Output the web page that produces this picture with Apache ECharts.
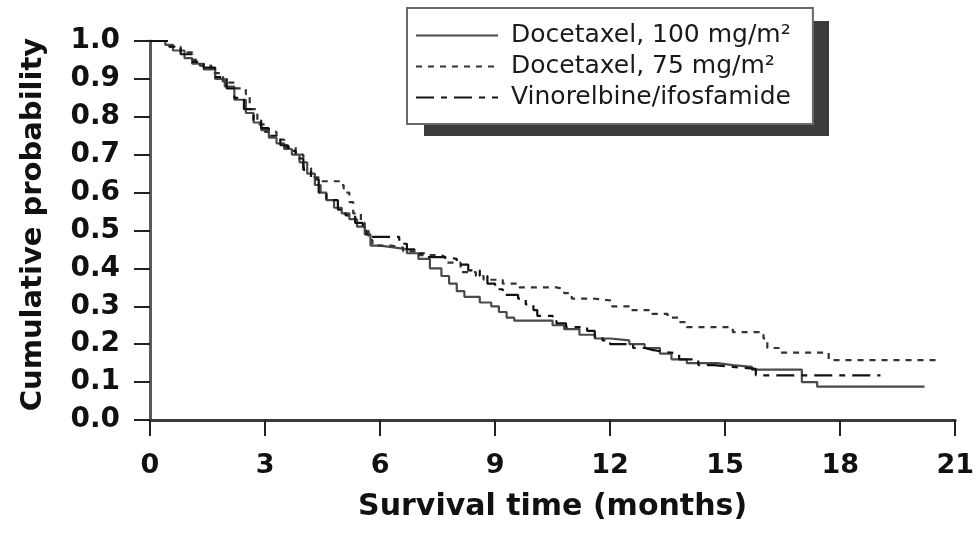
<!DOCTYPE html>
<html><head><meta charset="utf-8">
<script src="https://cdn.jsdelivr.net/npm/echarts@6/dist/echarts.min.js"></script>
<style>html,body{margin:0;padding:0;background:#fff}#c{width:977px;height:533px}</style>
</head><body><div id="c"></div>
<script>
// ---- data ----
const seriesNames = ['Docetaxel, 100 mg/m²', 'Docetaxel, 75 mg/m²', 'Vinorelbine/ifosfamide'];
const xTicks = [0, 3, 6, 9, 12, 15, 18, 21];
const yTicks = [0.0, 0.1, 0.2, 0.3, 0.4, 0.5, 0.6, 0.7, 0.8, 0.9, 1.0];

const d100Months = [0,0.4,0.6,0.9,1.1,1.4,1.7,1.95,2.2,2.5,2.7,2.9,3.1,3.3,3.5,3.7,3.9,4.1,4.3,4.45,4.6,4.8,5.0,5.2,5.4,5.6,5.75,6.0,6.4,6.7,7.0,7.3,7.6,7.8,8.0,8.2,8.6,8.9,9.1,9.3,9.5,10.5,10.8,11.2,11.6,12.0,12.5,12.9,13.3,13.6,14.0,14.8,15.2,15.7,17.0,17.4,20.2];
const d100Surv   = [1.0,0.99,0.975,0.955,0.94,0.925,0.9,0.88,0.845,0.81,0.785,0.765,0.745,0.73,0.715,0.7,0.68,0.65,0.62,0.6,0.58,0.56,0.545,0.53,0.51,0.49,0.46,0.455,0.45,0.44,0.425,0.4,0.38,0.36,0.34,0.325,0.31,0.3,0.285,0.27,0.262,0.25,0.24,0.225,0.215,0.21,0.2,0.19,0.175,0.16,0.15,0.145,0.14,0.133,0.10,0.088,0.088];

const d75Months = [0,0.5,0.8,1.1,1.3,1.6,1.9,2.2,2.5,2.6,2.8,3.0,3.3,3.5,3.8,4.0,4.2,4.4,4.95,5.05,5.2,5.3,5.5,5.6,5.7,5.8,6.3,6.6,6.9,7.6,7.7,8.1,8.5,8.7,9.2,9.6,10.6,10.8,11.0,11.6,12.05,12.5,13.1,13.5,13.8,14.0,15.2,16.0,16.1,16.4,17.7,20.6];
const d75Surv   = [1.0,0.985,0.97,0.95,0.935,0.915,0.89,0.875,0.86,0.82,0.78,0.76,0.74,0.72,0.7,0.665,0.64,0.63,0.62,0.6,0.575,0.545,0.52,0.5,0.475,0.46,0.455,0.445,0.435,0.43,0.415,0.39,0.38,0.37,0.36,0.35,0.345,0.335,0.32,0.315,0.3,0.29,0.28,0.27,0.258,0.245,0.232,0.215,0.19,0.178,0.158,0.158];

const viMonths = [0,0.5,0.8,1.1,1.4,1.7,2.0,2.2,2.45,2.7,2.9,3.1,3.4,3.6,3.8,4.0,4.2,4.4,4.6,4.9,5.1,5.35,5.55,5.65,6.5,6.7,6.9,7.2,7.7,8.0,8.3,8.6,8.8,9.0,9.2,9.6,9.8,10.0,10.1,10.5,10.6,10.85,11.4,11.6,11.8,12.0,12.6,12.9,13.1,13.4,13.8,14.3,14.7,15.2,15.8,19.05];
const viSurv   = [1.0,0.985,0.965,0.945,0.93,0.905,0.875,0.85,0.82,0.79,0.77,0.75,0.725,0.71,0.69,0.66,0.635,0.6,0.58,0.555,0.54,0.52,0.5,0.483,0.465,0.45,0.44,0.43,0.425,0.41,0.395,0.38,0.36,0.345,0.33,0.32,0.305,0.29,0.275,0.265,0.255,0.245,0.235,0.22,0.21,0.2,0.19,0.185,0.18,0.175,0.16,0.145,0.14,0.135,0.118,0.118];

const zip = (a, b) => a.map((v, i) => [v, b[i]]);

const chart = echarts.init(document.getElementById('c'), null, {renderer: 'canvas'});
const FONT = 'DejaVu Sans';
chart.setOption({
  animation: false,
  backgroundColor: '#ffffff',
  grid: {left: 150, right: 20, top: 41, bottom: 113, containLabel: false},
  graphic: [{
    // drop shadow behind the legend box
    type: 'rect', z: 1, silent: true,
    shape: {x: 424, y: 21, width: 405, height: 115},
    style: {fill: '#3c3c3c'}
  }],
  legend: {
    z: 10,
    orient: 'vertical',
    left: 407, top: 8,
    padding: [15, 22, 14, 8],
    itemGap: 6,
    itemWidth: 82, itemHeight: 26,
    backgroundColor: '#ffffff',
    borderColor: '#6a6a6a', borderWidth: 2,
    itemStyle: {opacity: 0},
    textStyle: {fontFamily: FONT, fontSize: 25, color: '#1a1a1a', padding: [0, 0, 0, 8]},
    data: seriesNames
  },
  xAxis: {
    type: 'value', min: 0, max: 21, interval: 3,
    name: 'Survival time (months)', nameLocation: 'middle', nameGap: 72,
    nameTextStyle: {fontFamily: FONT, fontWeight: 'bold', fontSize: 30, color: '#111'},
    axisLine: {lineStyle: {color: '#3a3a3a', width: 3}},
    axisTick: {show: true, inside: false, length: 16, lineStyle: {color: '#222', width: 2}},
    axisLabel: {margin: 32, fontFamily: FONT, fontWeight: 'bold', fontSize: 27, color: '#111',
      formatter: v => xTicks.includes(v) ? String(v) : ''},
    splitLine: {show: false}
  },
  yAxis: {
    type: 'value', min: 0, max: 1, interval: 0.1,
    name: 'Cumulative probability', nameLocation: 'middle', nameGap: 102,
    nameTextStyle: {fontFamily: FONT, fontWeight: 'bold', fontSize: 29, color: '#111', padding: [0, 0, 0, 12]},
    axisLine: {show: true, lineStyle: {color: '#5a5a5a', width: 3}},
    axisTick: {show: true, inside: false, length: 16, lineStyle: {color: '#222', width: 2}},
    axisLabel: {margin: 30, fontFamily: FONT, fontWeight: 'bold', fontSize: 28, color: '#111',
      formatter: v => yTicks.some(t => Math.abs(t - v) < 1e-9) ? v.toFixed(1) : ''},
    splitLine: {show: false}
  },
  series: [
    {name: seriesNames[0], type: 'line', step: 'end', showSymbol: false, symbol: 'none',
     data: zip(d100Months, d100Surv),
     lineStyle: {color: '#4a4a4a', width: 2.2, type: 'solid'}, itemStyle: {color: '#4a4a4a'}},
    {name: seriesNames[1], type: 'line', step: 'end', showSymbol: false, symbol: 'none',
     data: zip(d75Months, d75Surv),
     lineStyle: {color: '#333333', width: 2.2, type: [6, 6]}, itemStyle: {color: '#333333'}},
    {name: seriesNames[2], type: 'line', step: 'end', showSymbol: false, symbol: 'none',
     data: zip(viMonths, viSurv),
     lineStyle: {color: '#111111', width: 2.2, type: [18, 7, 6, 7]}, itemStyle: {color: '#111111'}}
  ]
});
</script>
</body></html>
